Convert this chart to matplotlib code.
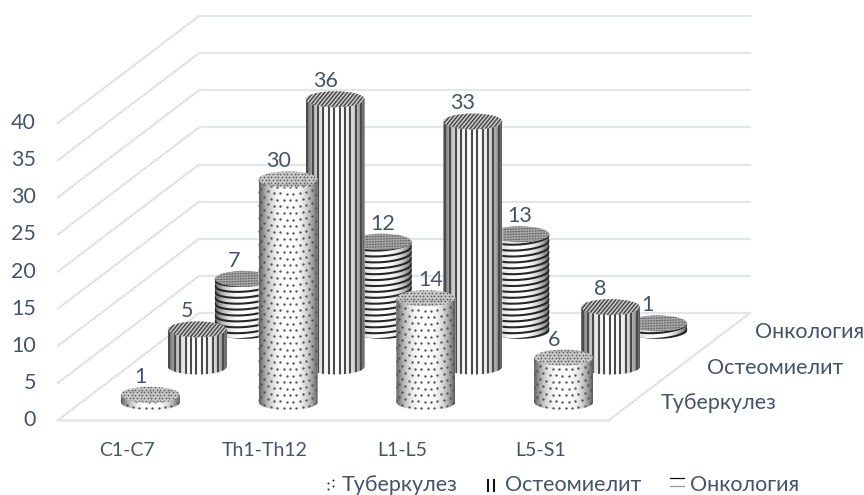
import numpy as np
import matplotlib
matplotlib.use("Agg")
import matplotlib.pyplot as plt
from matplotlib.patches import Polygon, Ellipse

plt.rcParams["font.family"] = ["Lato", "Open Sans", "DejaVu Sans"]

regions = ["C1-C7", "Th1-Th12", "L1-L5", "L5-S1"]
series = ["Туберкулез", "Остеомиелит", "Онкология"]
tuberculosis = [1, 30, 14, 6]
osteomyelitis = [5, 36, 33, 8]
oncology = [7, 12, 13, 1]
value_ticks = [0, 5, 10, 15, 20, 25, 30, 35, 40]

TEXT = "#44546a"
FS = 15.5

# oblique projection of the chart box, in figure pixels
X0, Y0 = 58, 420
CAT_W = 551 / 4
UNIT = 297 / 40
DEPTH_X, DEPTH_Y = 141 / 3, 107 / 3
RX, RY = 29.5, 8


def project(x, depth, v):
    return X0 + CAT_W * x + DEPTH_X * depth, Y0 - UNIT * v - DEPTH_Y * depth


fig = plt.figure(figsize=(8.64, 4.95), dpi=100)
ax = fig.add_axes([0, 0, 1, 1])
ax.set_xlim(0, 864)
ax.set_ylim(495, 0)
ax.axis("off")
ax.autoscale(False)


def side_line(xs, ys):
    ax.plot(xs, ys, color="#ececec", lw=1.8, zorder=1)
    ax.plot(xs, ys, color="#c4c4c4", lw=0.7, ls=(0, (1, 2)), zorder=1)


# back wall, side wall and floor
for v in value_ticks:
    x0, y0 = project(0, 0, v)
    x1, y1 = project(0, 3, v)
    x2, y2 = project(4, 3, v)
    ax.plot([x1, x2], [y1, y2], color="#e2e5eb", lw=1.6, zorder=1)
    side_line([x0, x1], [y0, y1])
    ax.text(36, y0, str(v), ha="right", va="center", color=TEXT, fontsize=FS)
xa, ya = project(0, 0, 0)
xb, yb = project(4, 0, 0)
xc, yc = project(4, 3, 0)
ax.plot([xa, xb], [ya, yb], color="#e3e6ed", lw=1.8, zorder=1)
side_line([xb, xc], [yb, yc])


def clipped(artist, clip):
    artist.set_clip_path(clip)
    return artist


def draw_body(cx, base, top, z):
    t = np.linspace(np.pi, 0, 60)
    low = np.column_stack([cx + RX * np.cos(t), base + RY * np.sin(t)])
    pts = np.vstack([[cx - RX, top], low, [cx + RX, top]])
    body = Polygon(pts, closed=True, facecolor="white", edgecolor="none", zorder=z)
    ax.add_patch(body)
    u = np.linspace(-1, 1, 64)
    shade = 1 - 0.62 * np.abs(u) ** 2.6
    im = ax.imshow(shade[None, :], cmap="gray", vmin=0, vmax=1, aspect="auto",
                   extent=[cx - RX, cx + RX, base + RY, top], zorder=z + 0.1)
    clipped(im, body)
    return body


def draw_cap(cx, top, z, face):
    cap = Ellipse((cx, top), 2 * RX, 2 * RY, facecolor=face, edgecolor="none", zorder=z)
    ax.add_patch(cap)
    return cap


def dotted(cx, base, top, z):
    body = draw_body(cx, base, top, z)
    xs, ys = [], []
    for k, row in enumerate(np.arange(base + RY - 2, top - 8, -6.5)):
        shift = 3.2 * (k % 2)
        for col in np.arange(cx - RX - 7 + shift, cx + RX + 7, 6.4):
            u = np.clip((col - cx) / RX, -1, 1)
            xs.append(col)
            ys.append(row - RY + RY * np.sqrt(1 - u ** 2))
    clipped(ax.scatter(xs, ys, s=3, color="#555555", linewidths=0, zorder=z + 0.2), body)
    cap = draw_cap(cx, top, z + 0.3, "#cccccc")
    gx, gy = np.meshgrid(np.arange(cx - RX, cx + RX, 3.6), np.arange(top - RY, top + RY, 2.8))
    gx = gx + 1.8 * (np.round((gy - top) / 2.8) % 2)
    clipped(ax.scatter(gx.ravel(), gy.ravel(), s=1.8, color="#666666", linewidths=0, zorder=z + 0.4), cap)


def striped(cx, base, top, z):
    body = draw_body(cx, base, top, z)
    for sx in np.arange(cx - RX + 1.5, cx + RX, 5.4):
        clipped(ax.plot([sx, sx], [top, base + RY], color="#4a4a4a", lw=1.5, zorder=z + 0.2)[0], body)
    cap = draw_cap(cx, top, z + 0.3, "#d2d2d2")
    for sx in np.arange(cx - RX - 12, cx + RX + 12, 3.8):
        clipped(ax.plot([sx, sx + 13], [top + RY, top - RY], color="#4a4a4a", lw=1.1,
                        zorder=z + 0.4)[0], cap)


def ringed(cx, base, top, z):
    body = draw_body(cx, base, top, z)
    px = np.linspace(cx - RX, cx + RX, 50)
    arc = RY * np.sqrt(1 - ((px - cx) / RX) ** 2) - 0.07 * (px - cx)
    for level in np.arange(base, top - 6, -5.9):
        clipped(ax.plot(px, level + arc, color="#262626", lw=1.5, zorder=z + 0.2)[0], body)
    cap = draw_cap(cx, top, z + 0.3, "#a6a6a6")
    for level in np.arange(top - RY, top + RY, 2.6):
        clipped(ax.plot([cx - RX, cx + RX], [level + 1, level - 1], color="#5a5a5a", lw=0.8,
                        ls=(0, (1.5, 1)), zorder=z + 0.4)[0], cap)


# columns back to front, each series on its own depth row
z = 2
rows = [(2.5, oncology, ringed), (1.5, osteomyelitis, striped), (0.5, tuberculosis, dotted)]
for depth, values, painter in rows:
    for i, v in enumerate(values):
        cx, base = project(i + 0.5, depth, 0)
        _, top = project(i + 0.5, depth, v)
        painter(cx, base, top, z)
        z += 1

# value labels sit above the caps, a few are nudged off their neighbours
nudge = {(2.5, 1): 11, (2.5, 2): 10, (0.5, 2): 15}
for depth, values, painter in rows:
    for i, v in enumerate(values):
        cx, base = project(i + 0.5, depth, 0)
        _, top = project(i + 0.5, depth, v)
        ax.text(cx - 10 + nudge.get((depth, i), 0), top - 18, str(v), ha="center", va="center",
                color=TEXT, fontsize=FS, zorder=50)

for i, name in enumerate(regions):
    x, _ = project(i + 0.5, 0, 0)
    ax.text(x, 451, name, ha="center", va="center", color=TEXT, fontsize=FS - 1.5)

for depth, name in zip([0.5, 1.5, 2.5], series):
    x, y = project(4, depth, 0)
    ax.text(x + 28, y + 1, name, ha="left", va="center", color=TEXT, fontsize=FS)

# legend along the bottom edge
ax.text(342, 485, series[0], ha="left", va="center", color=TEXT, fontsize=FS)
ax.text(505, 485, series[1], ha="left", va="center", color=TEXT, fontsize=FS)
ax.text(690, 485, series[2], ha="left", va="center", color=TEXT, fontsize=FS)
ax.scatter([328, 328, 333, 333], [483, 489, 480, 486], s=2, color="#222222", linewidths=0)
ax.plot([487.5, 487.5], [480, 491], color="#111111", lw=1.5)
ax.plot([493.5, 493.5], [480, 491], color="#111111", lw=1.5)
ax.plot([670, 684], [478, 478], color="#111111", lw=0.9)
ax.plot([670, 684], [486, 486], color="#999999", lw=0.9)

fig.savefig("out.png", dpi=100)
